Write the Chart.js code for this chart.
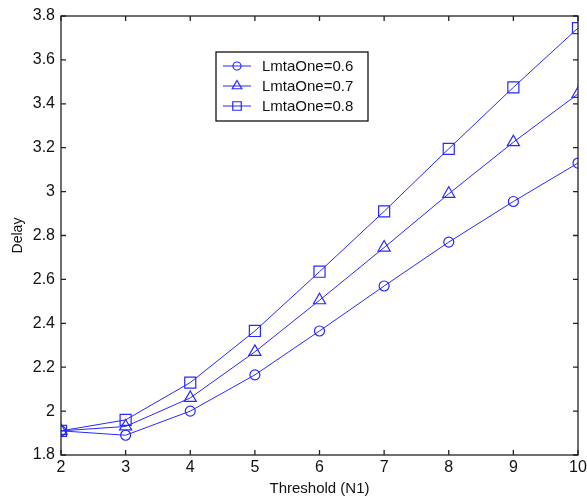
<!DOCTYPE html>
<html>
<head>
<meta charset="utf-8">
<script src="https://cdn.jsdelivr.net/npm/chart.js@4/dist/chart.umd.min.js"></script>
<style>
  html, body { margin: 0; padding: 0; background: #fff; }
  #wrap { width: 587px; height: 504px; }
</style>
</head>
<body>
<div id="wrap"><canvas id="c" width="587" height="504"></canvas></div>
<script>
// ---- data ----
const thresholds = [2, 3, 4, 5, 6, 7, 8, 9, 10];
const delay06 = [1.91, 1.89, 2.00, 2.165, 2.365, 2.57, 2.77, 2.955, 3.13];
const delay07 = [1.91, 1.93, 2.06, 2.27, 2.505, 2.745, 2.99, 3.225, 3.445];
const delay08 = [1.91, 1.96, 2.13, 2.365, 2.635, 2.91, 3.195, 3.475, 3.745];
const seriesLabels = ['LmtaOne=0.6', 'LmtaOne=0.7', 'LmtaOne=0.8'];
const xTickLabels = ['2', '3', '4', '5', '6', '7', '8', '9', '10'];
const yTickValues = [1.8, 2.0, 2.2, 2.4, 2.6, 2.8, 3.0, 3.2, 3.4, 3.6, 3.8];
const yTickLabels = ['1.8', '2', '2.2', '2.4', '2.6', '2.8', '3', '3.2', '3.4', '3.6', '3.8'];

const BLUE = 'rgb(40,40,255)';
const AXIS = '#222';
const FONT = '"Liberation Sans", Arial, sans-serif';

function toXY(ys) { return thresholds.map((x, i) => ({ x, y: ys[i] })); }

function series(label, ys, style, radius, legendRadius) {
  return {
    label,
    data: toXY(ys),
    borderColor: BLUE,
    backgroundColor: 'rgba(0,0,0,0)',
    borderWidth: 1,
    pointStyle: style,
    pointRadius: radius,
    legendRadius,
    pointBorderWidth: 1.2,
    pointBackgroundColor: 'rgba(0,0,0,0)',
    pointBorderColor: BLUE,
    tension: 0,
  };
}

/* ---------- frame, inward ticks and tick labels ---------- */
const matlabAxes = {
  id: 'matlabAxes',
  afterDatasetsDraw(chart) {
    const { ctx, chartArea: a, scales: { x, y } } = chart;
    ctx.save();
    ctx.strokeStyle = AXIS;
    ctx.lineWidth = 1.3;
    ctx.strokeRect(a.left, a.top, a.right - a.left, a.bottom - a.top);
    const tl = 5;
    ctx.beginPath();
    thresholds.forEach(v => {
      const px = x.getPixelForValue(v);
      ctx.moveTo(px, a.bottom); ctx.lineTo(px, a.bottom - tl);
      ctx.moveTo(px, a.top); ctx.lineTo(px, a.top + tl);
    });
    yTickValues.forEach(v => {
      const py = y.getPixelForValue(v);
      ctx.moveTo(a.left, py); ctx.lineTo(a.left + tl, py);
      ctx.moveTo(a.right, py); ctx.lineTo(a.right - tl, py);
    });
    ctx.stroke();

    ctx.fillStyle = '#111';
    ctx.font = '16px ' + FONT;
    ctx.textAlign = 'center';
    ctx.textBaseline = 'middle';
    xTickLabels.forEach((t, i) => {
      ctx.fillText(t, x.getPixelForValue(thresholds[i]), a.bottom + 13);
    });
    ctx.textAlign = 'right';
    yTickLabels.forEach((t, i) => {
      ctx.fillText(t, a.left - 6, y.getPixelForValue(yTickValues[i]));
    });
    ctx.restore();
  },
};

/* ---------- boxed legend inside the plot ---------- */
const boxLegend = {
  id: 'boxLegend',
  afterDraw(chart) {
    const { ctx } = chart;
    const bx = 216, by = 52, bw = 152, bh = 69;
    ctx.save();
    ctx.fillStyle = '#fff';
    ctx.fillRect(bx, by, bw, bh);
    ctx.strokeStyle = '#111';
    ctx.lineWidth = 1.3;
    ctx.strokeRect(bx, by, bw, bh);
    ctx.font = '15px ' + FONT;
    ctx.textAlign = 'left';
    ctx.textBaseline = 'middle';
    chart.data.datasets.forEach((ds, i) => {
      const cy = by + 14 + i * 20;
      ctx.strokeStyle = BLUE;
      ctx.lineWidth = 1;
      ctx.beginPath();
      ctx.moveTo(bx + 7, cy); ctx.lineTo(bx + 35, cy);
      ctx.stroke();
      ctx.lineWidth = 1.2;
      ctx.fillStyle = 'rgba(0,0,0,0)';
      Chart.helpers.drawPoint(ctx, { pointStyle: ds.pointStyle, radius: ds.legendRadius, rotation: 0, borderWidth: 1.2 }, bx + 21, cy);
      ctx.fillStyle = '#111';
      ctx.fillText(ds.label, bx + 46, cy + 1);
    });
    ctx.restore();
  },
};

new Chart(document.getElementById('c'), {
  type: 'line',
  data: {
    datasets: [
      series(seriesLabels[0], delay06, 'circle', 5, 4),
      series(seriesLabels[1], delay07, 'triangle', 7, 5.5),
      series(seriesLabels[2], delay08, 'rect', 7.8, 6),
    ],
  },
  options: {
    responsive: false,
    animation: false,
    layout: { padding: { top: 16, right: 5, left: 0, bottom: 0 } },
    plugins: { legend: { display: false }, tooltip: { enabled: false } },
    scales: {
      x: {
        type: 'linear', min: 2, max: 10,
        ticks: { display: false, stepSize: 1 },
        grid: { display: false, drawTicks: false },
        border: { display: false },
        title: { display: true, text: 'Threshold (N1)', color: '#111', font: { family: FONT, size: 15 }, padding: { top: 0, bottom: 6 } },
        afterFit: s => { s.height = 49; },
      },
      y: {
        type: 'linear', min: 1.8, max: 3.8,
        ticks: { display: false, stepSize: 0.2 },
        grid: { display: false, drawTicks: false },
        border: { display: false },
        title: { display: true, text: 'Delay', color: '#111', font: { family: FONT, size: 14 }, padding: { top: 10, bottom: 0 } },
        afterFit: s => { s.width = 61; },
      },
    },
  },
  plugins: [matlabAxes, boxLegend],
});
</script>
</body>
</html>
